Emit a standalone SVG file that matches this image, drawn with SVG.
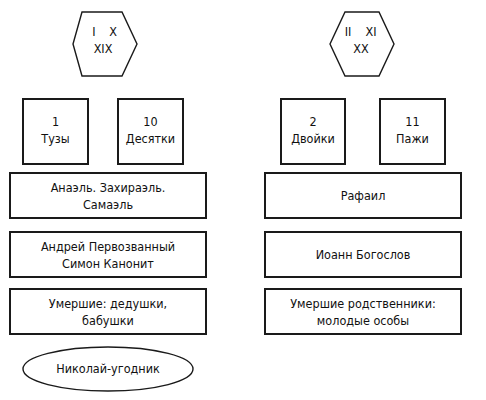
<svg xmlns="http://www.w3.org/2000/svg" width="486" height="400" viewBox="0 0 486 400">
<style>
.b{fill:#fff;stroke:#1a1a1a;stroke-width:2}
.h{fill:#fff;stroke:#1a1a1a;stroke-width:1.4}
text{font-family:"Liberation Sans Narrow","DejaVu Sans Condensed","Liberation Sans",sans-serif;font-size:12.5px;fill:#111;text-anchor:middle}
</style>
<rect width="486" height="400" fill="#fff"/>
<g id="hex1"><polygon class="h" points="82,12 122,12 137,44 122,76 82,76 73,44"/><text x="94" y="36">I</text><text x="113" y="36">X</text><text x="103" y="53">XIX</text></g>
<g id="hex2"><polygon class="h" points="345,12 379,12 394,44 379,76 345,76 330,44"/><text x="348" y="36">II</text><text x="371" y="36">XI</text><text x="361" y="53">XX</text></g>
<g id="aces"><rect class="b" x="23" y="99" width="65" height="65"/><text x="55.5" y="126">1</text><text x="55.5" y="143">Тузы</text></g>
<g id="tens"><rect class="b" x="118" y="99" width="65" height="65"/><text x="150.5" y="126">10</text><text x="150.5" y="143">Десятки</text></g>
<g id="twos"><rect class="b" x="281" y="99" width="64" height="65"/><text x="313" y="126">2</text><text x="313" y="143">Двойки</text></g>
<g id="pages"><rect class="b" x="380" y="99" width="65" height="65"/><text x="412.5" y="126">11</text><text x="412.5" y="143">Пажи</text></g>
<g id="angels1"><rect class="b" x="10" y="173" width="196" height="45"/><text x="108" y="192">Анаэль. Захираэль.</text><text x="108" y="209">Самаэль</text></g>
<g id="apostles1"><rect class="b" x="10" y="232" width="196" height="45"/><text x="108" y="251">Андрей Первозванный</text><text x="108" y="268">Симон Канонит</text></g>
<g id="dead1"><rect class="b" x="10" y="289" width="196" height="45"/><text x="108" y="308">Умершие: дедушки,</text><text x="108" y="325">бабушки</text></g>
<g id="nikolai"><ellipse class="h" cx="108" cy="369" rx="85" ry="22"/><text x="108" y="373">Николай-угодник</text></g>
<g id="angels2"><rect class="b" x="265" y="173" width="196" height="45"/><text x="363" y="200">Рафаил</text></g>
<g id="apostles2"><rect class="b" x="265" y="232" width="196" height="45"/><text x="363" y="259">Иоанн Богослов</text></g>
<g id="dead2"><rect class="b" x="265" y="289" width="196" height="45"/><text x="363" y="308">Умершие родственники:</text><text x="363" y="325">молодые особы</text></g>
<g id="connectors"></g>
</svg>
